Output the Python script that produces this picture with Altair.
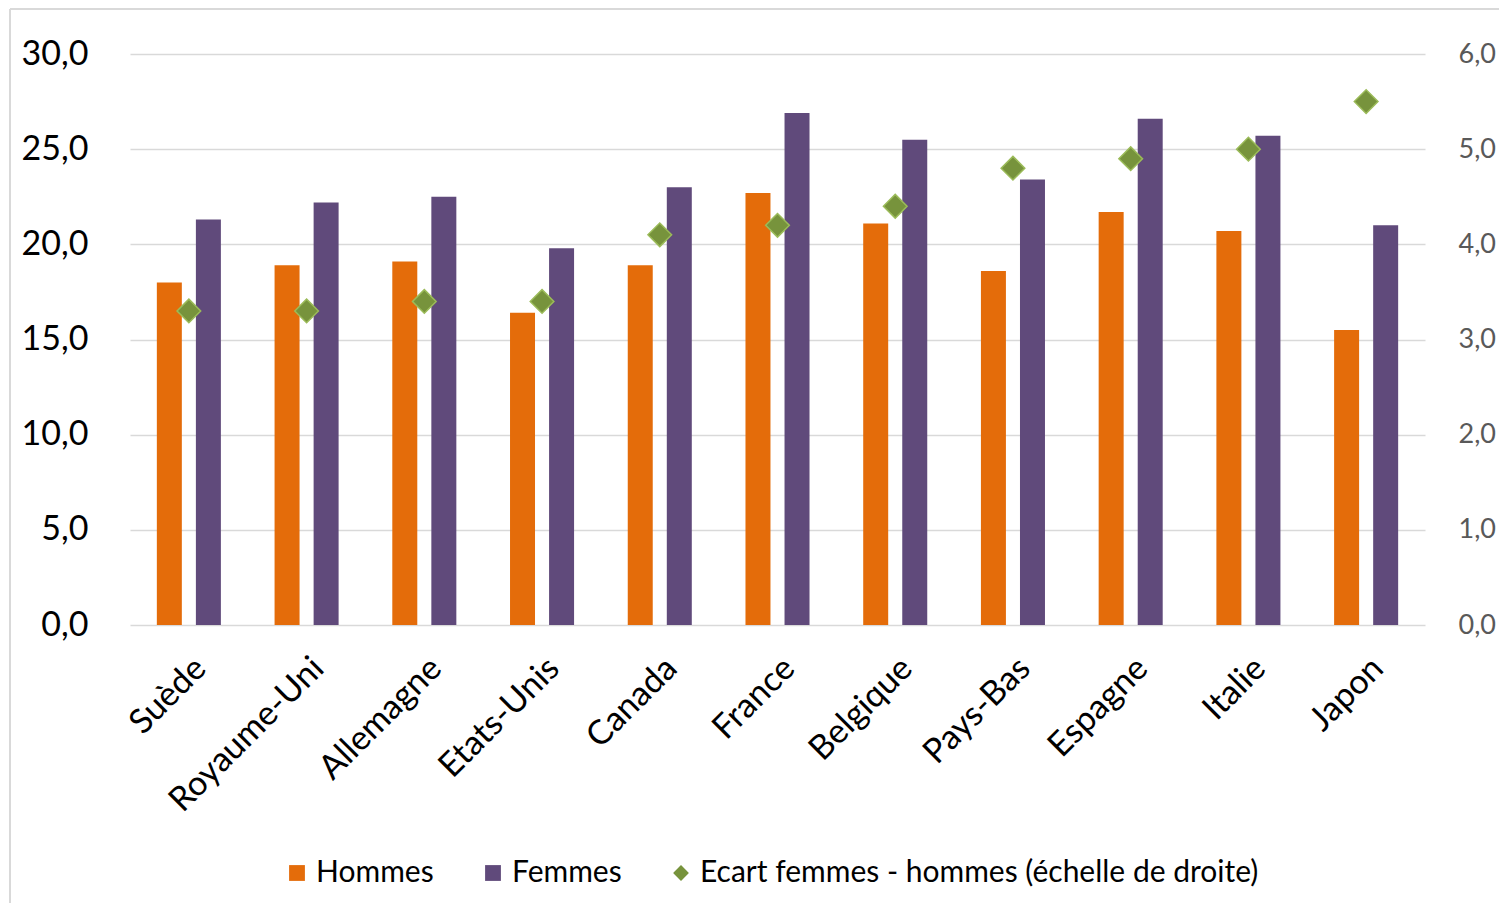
import altair as alt
import pandas as pd

pays = ["Suède", "Royaume-Uni", "Allemagne", "Etats-Unis", "Canada", "France",
        "Belgique", "Pays-Bas", "Espagne", "Italie", "Japon"]
hommes = [18.0, 18.9, 19.1, 16.4, 18.9, 22.7, 21.1, 18.6, 21.7, 20.7, 15.5]
femmes = [21.3, 22.2, 22.5, 19.8, 23.0, 26.9, 25.5, 23.4, 26.6, 25.7, 21.0]
ecart = [3.3, 3.3, 3.4, 3.4, 4.1, 4.2, 4.4, 4.8, 4.9, 5.0, 5.5]

series = ["Hommes", "Femmes", "Ecart femmes - hommes (échelle de droite)"]
colors = ["#E46C0A", "#604A7B", "#77933C"]
shapes = ["square", "square", "diamond"]

rows = []
for p, h, f in zip(pays, hommes, femmes):
    rows.append({"pays": p, "serie": series[0], "valeur": h})
    rows.append({"pays": p, "serie": series[1], "valeur": f})
bars_df = pd.DataFrame(rows)
pts_df = pd.DataFrame({"pays": pays, "serie": series[2], "ecart": ecart})

FONT = "Lato"
fmt = "replace(format(datum.value, '.1f'), '.', ',')"

color_scale = alt.Scale(domain=series, range=colors)
shape_scale = alt.Scale(domain=series, range=shapes)
x_enc = alt.X("pays:N", sort=pays, title=None,
              scale=alt.Scale(paddingInner=0.456, paddingOuter=0.228),
              axis=alt.Axis(labelAngle=-45, labelFontSize=34, labelColor="#000000",
                            labelPadding=26, ticks=False, domain=False, grid=False,
                            labelFont=FONT, labelLimit=0))

legend = alt.Legend(title=None, orient="none", direction="horizontal",
                    legendX=152, legendY=804, labelFontSize=30, labelFont=FONT,
                    labelColor="#000000", symbolSize=250, symbolStrokeWidth=0,
                    columnPadding=44, labelOffset=4, symbolOpacity=1, labelLimit=0)

bars = alt.Chart(bars_df).mark_bar().encode(
    x=x_enc,
    xOffset=alt.XOffset("serie:N", sort=series[:2],
                        scale=alt.Scale(paddingInner=0.36, paddingOuter=0)),
    y=alt.Y("valeur:Q", title=None,
            scale=alt.Scale(domain=[0, 30], nice=False),
            axis=alt.Axis(values=[0, 5, 10, 15, 20, 25, 30], labelExpr=fmt,
                          labelFontSize=34, labelColor="#000000", labelFont=FONT,
                          labelPadding=42, ticks=False, domain=False,
                          grid=True, gridColor="#D9D9D9", gridWidth=1.5)),
    color=alt.Color("serie:N", scale=color_scale, legend=legend),
)

points = alt.Chart(pts_df).mark_point(filled=True, stroke="#9BBB59", strokeWidth=1.5,
                                      size=560, opacity=1).encode(
    x=alt.X("pays:N", sort=pays),
    y=alt.Y("ecart:Q", title=None,
            scale=alt.Scale(domain=[0, 6], nice=False),
            axis=alt.Axis(orient="right", values=[0, 1, 2, 3, 4, 5, 6], labelExpr=fmt,
                          labelFontSize=27, labelColor="#595959", labelFont=FONT,
                          labelPadding=33, ticks=False, domain=False, grid=False)),
    color=alt.Color("serie:N", scale=color_scale, legend=legend),
    shape=alt.Shape("serie:N", scale=shape_scale, legend=legend),
)

frame_df = pd.DataFrame({"k": [0]})
left_border = alt.Chart(frame_df).mark_rule(color="#D9D9D9", strokeWidth=2).encode(
    x=alt.value(-120), y=alt.value(-45), y2=alt.value(860))
top_border = alt.Chart(frame_df).mark_rule(color="#D9D9D9", strokeWidth=2).encode(
    x=alt.value(-120), x2=alt.value(1380), y=alt.value(-45))

chart = alt.layer(bars, points, left_border, top_border).resolve_scale(
    y="independent"
).properties(
    width=1295, height=571,
    autosize=alt.AutoSizeParams(type="none"),
    padding={"left": 122, "top": 46, "right": 74, "bottom": 278},
    background="#FFFFFF",
).configure_view(stroke=None)

chart.save("out.html", embed_options={"renderer": "svg", "actions": False})
